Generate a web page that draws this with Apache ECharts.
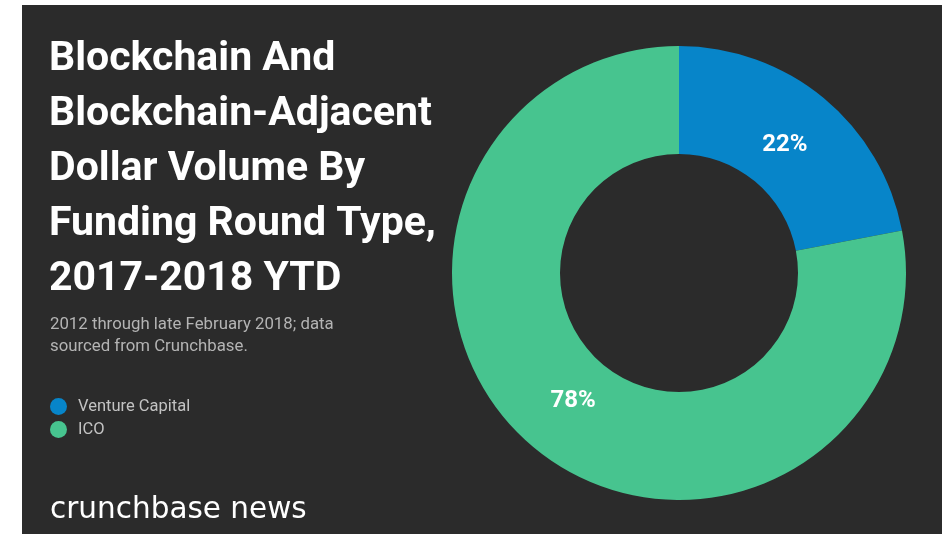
<!DOCTYPE html>
<html>
<head>
<meta charset="utf-8">
<script src="https://cdn.jsdelivr.net/npm/echarts@6/dist/echarts.min.js"></script>
<style>
  html, body { margin: 0; padding: 0; background: #fff; }
  #chart { width: 942px; height: 534px; }
</style>
</head>
<body>
<div id="chart"></div>
<script>
// data
const categories = ["Venture Capital", "ICO"];
const shares = [22, 78];
const colors = ["#0785c9", "#47c48f"];

const chart = echarts.init(document.getElementById("chart"));

const pieData = categories.map((name, i) => ({
  name: name,
  value: shares[i],
  itemStyle: { color: colors[i] },
}));

chart.setOption({
  backgroundColor: "#fff",
  animation: false,
  graphic: [
    {
      type: "rect",
      left: 22,
      top: 5,
      z: -10,
      shape: { width: 920, height: 529 },
      style: { fill: "#2b2b2b" },
    },
  ],
  title: [
    {
      text: "Blockchain And\nBlockchain-Adjacent\nDollar Volume By\nFunding Round Type,\n2017-2018 YTD",
      left: 44,
      top: 27,
      textStyle: {
        color: "#fff",
        fontFamily: "Roboto",
        fontWeight: "bold",
        fontSize: 41,
        lineHeight: 55,
      },
    },
    {
      text: "2012 through late February 2018; data\nsourced from Crunchbase.",
      left: 45,
      top: 309,
      textStyle: {
        color: "#b4b4b4",
        fontFamily: "Roboto",
        fontWeight: "normal",
        fontSize: 16.8,
        lineHeight: 22,
      },
    },
    {
      text: "crunchbase news",
      left: 45,
      top: 490,
      textStyle: {
        color: "#fff",
        fontFamily: "DejaVu Sans",
        fontWeight: "normal",
        fontSize: 29.5,
      },
    },
  ],
  legend: {
    orient: "vertical",
    left: 45,
    top: 393,
    icon: "circle",
    itemWidth: 29,
    itemHeight: 17,
    itemGap: 6,
    data: categories,
    textStyle: {
      color: "#c2c2c2",
      fontFamily: "Roboto",
      fontSize: 16.5,
    },
  },
  series: [
    {
      type: "pie",
      center: [679, 273],
      radius: [119, 227],
      startAngle: 90,
      clockwise: true,
      silent: true,
      label: { show: false },
      labelLine: { show: false },
      data: pieData,
    },
    {
      // transparent ring just to place the percentage labels a bit inward
      type: "pie",
      center: [679, 273],
      radius: [119, 207],
      startAngle: 90,
      clockwise: true,
      silent: true,
      itemStyle: { color: "rgba(0,0,0,0)" },
      label: {
        show: true,
        position: "inside",
        formatter: "{c}%",
        color: "#fff",
        fontFamily: "Roboto",
        fontWeight: "bold",
        fontSize: 24,
      },
      labelLine: { show: false },
      data: categories.map((name, i) => ({ name: name, value: shares[i] })),
    },
  ],
});
</script>
</body>
</html>
